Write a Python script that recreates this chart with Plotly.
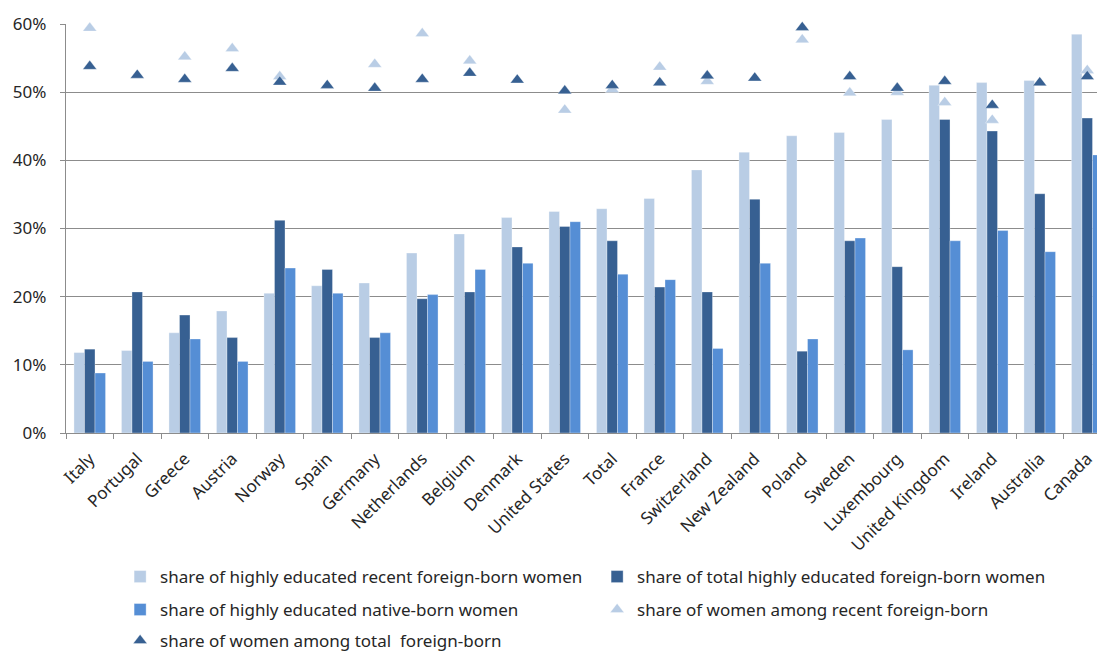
import plotly.graph_objects as go

# Countries, ordered by share of highly educated recent foreign-born women
countries = ["Italy", "Portugal", "Greece", "Austria", "Norway", "Spain", "Germany",
             "Netherlands", "Belgium", "Denmark", "United States", "Total", "France",
             "Switzerland", "New Zealand", "Poland", "Sweden", "Luxembourg",
             "United Kingdom", "Ireland", "Australia", "Canada"]

# Shares in percent
recent_highly_educated = [11.8, 12.1, 14.7, 17.9, 20.5, 21.6, 22.0, 26.4, 29.2, 31.6, 32.5,
                          32.9, 34.4, 38.6, 41.2, 43.6, 44.1, 46.0, 51.0, 51.4, 51.7, 58.5]
total_highly_educated = [12.3, 20.7, 17.3, 14.0, 31.2, 24.0, 14.0, 19.7, 20.7, 27.3, 30.3,
                         28.2, 21.4, 20.7, 34.3, 12.0, 28.2, 24.4, 46.0, 44.3, 35.1, 46.2]
native_highly_educated = [8.8, 10.5, 13.8, 10.5, 24.2, 20.5, 14.7, 20.3, 24.0, 24.9, 31.0,
                          23.3, 22.5, 12.4, 24.9, 13.8, 28.6, 12.2, 28.2, 29.7, 26.6, 40.8]
women_recent_foreign = [59.0, None, 54.8, 56.0, 51.9, None, 53.7, 58.2, 54.2, None, 47.0,
                        50.0, 53.3, 51.2, None, 57.3, 49.5, 49.6, 48.1, 45.5, None, 52.8]
women_total_foreign = [53.4, 52.1, 51.5, 53.1, 51.1, 50.6, 50.2, 51.5, 52.4, 51.4, 49.8,
                       50.6, 51.0, 52.0, 51.7, 59.1, 51.9, 50.2, 51.2, 47.7, 51.0, 51.9]

y_ticks = [0, 10, 20, 30, 40, 50, 60]
y_tick_labels = ["0%", "10%", "20%", "30%", "40%", "50%", "60%"]

LIGHT = "#B9CDE5"
DARK = "#376092"
MEDIUM = "#558ED5"
FONT = "Noto Sans"
TEXT = "#262626"
GRID = "#8C8C8C"

fig = go.Figure()

bar_line = dict(color="rgba(255,255,255,0.55)", width=0.6)
fig.add_trace(go.Bar(x=countries, y=recent_highly_educated,
                     name="share of highly educated recent foreign-born women",
                     marker=dict(color=LIGHT, line=bar_line), legend="legend"))
fig.add_trace(go.Bar(x=countries, y=total_highly_educated,
                     name="share of total highly educated foreign-born women",
                     marker=dict(color=DARK, line=bar_line), legend="legend"))
fig.add_trace(go.Bar(x=countries, y=native_highly_educated,
                     name="share of highly educated native-born women",
                     marker=dict(color=MEDIUM, line=bar_line), legend="legend2"))

tri_line = dict(color="rgba(255,255,255,0.5)", width=0.6)
fig.add_trace(go.Scatter(x=countries, y=women_recent_foreign, mode="markers",
                         name="share of women among recent foreign-born",
                         marker=dict(symbol="triangle-up", size=12, color=LIGHT, line=tri_line),
                         yaxis="y2", legend="legend2", cliponaxis=False))
fig.add_trace(go.Scatter(x=countries, y=women_total_foreign, mode="markers",
                         name="share of women among total  foreign-born",
                         marker=dict(symbol="triangle-up", size=12, color=DARK, line=tri_line),
                         yaxis="y2", legend="legend3", cliponaxis=False))

# Category width in px, used to let the last category run past the right edge
plot_left = 66
plot_h = 654 - 24 - 221
cat_px = 47.5
x_hi = -0.5 + (1097 - plot_left) / cat_px

# Triangle glyphs sit low on their anchor; shift the marker axis so each
# triangle is centred on its value.
tri_shift = 2.7 / (plot_h / 60)

legend_common = dict(orientation="h", xanchor="left", yanchor="middle",
                     xref="container", yref="container",
                     font=dict(family=FONT, size=17, color=TEXT),
                     bgcolor="rgba(0,0,0,0)", entrywidth=432, traceorder="normal")

fig.update_layout(
    width=1097, height=654,
    margin=dict(l=plot_left, r=0, t=24, b=221, autoexpand=False),
    paper_bgcolor="white", plot_bgcolor="white",
    barmode="group", bargap=0.335, bargroupgap=0,
    font=dict(family=FONT, color=TEXT),
    xaxis=dict(type="category", range=[-0.5, x_hi], showgrid=False,
               showline=True, linecolor=GRID, linewidth=1.3, automargin=False,
               ticks="outside", tickson="boundaries", ticklen=5, tickcolor=GRID,
               tickangle=-45, ticklabelstandoff=8,
               tickfont=dict(family=FONT, size=17, color=TEXT)),
    yaxis=dict(range=[0, 60], tickvals=y_ticks, ticktext=y_tick_labels,
               showgrid=True, gridcolor=GRID, gridwidth=1.3, automargin=False,
               showline=True, linecolor=GRID, linewidth=1.3,
               ticks="outside", ticklen=5, tickcolor=GRID, ticklabelstandoff=10,
               zeroline=False, tickfont=dict(family=FONT, size=17, color=TEXT)),
    yaxis2=dict(range=[-tri_shift, 60 - tri_shift], overlaying="y", visible=False),
    legend=dict(x=0.1095, y=0.1177, **legend_common),
    legend2=dict(x=0.1095, y=0.0673, **legend_common),
    legend3=dict(x=0.1095, y=0.0199, **legend_common),
    showlegend=True,
)

fig.write_html("out.html")
